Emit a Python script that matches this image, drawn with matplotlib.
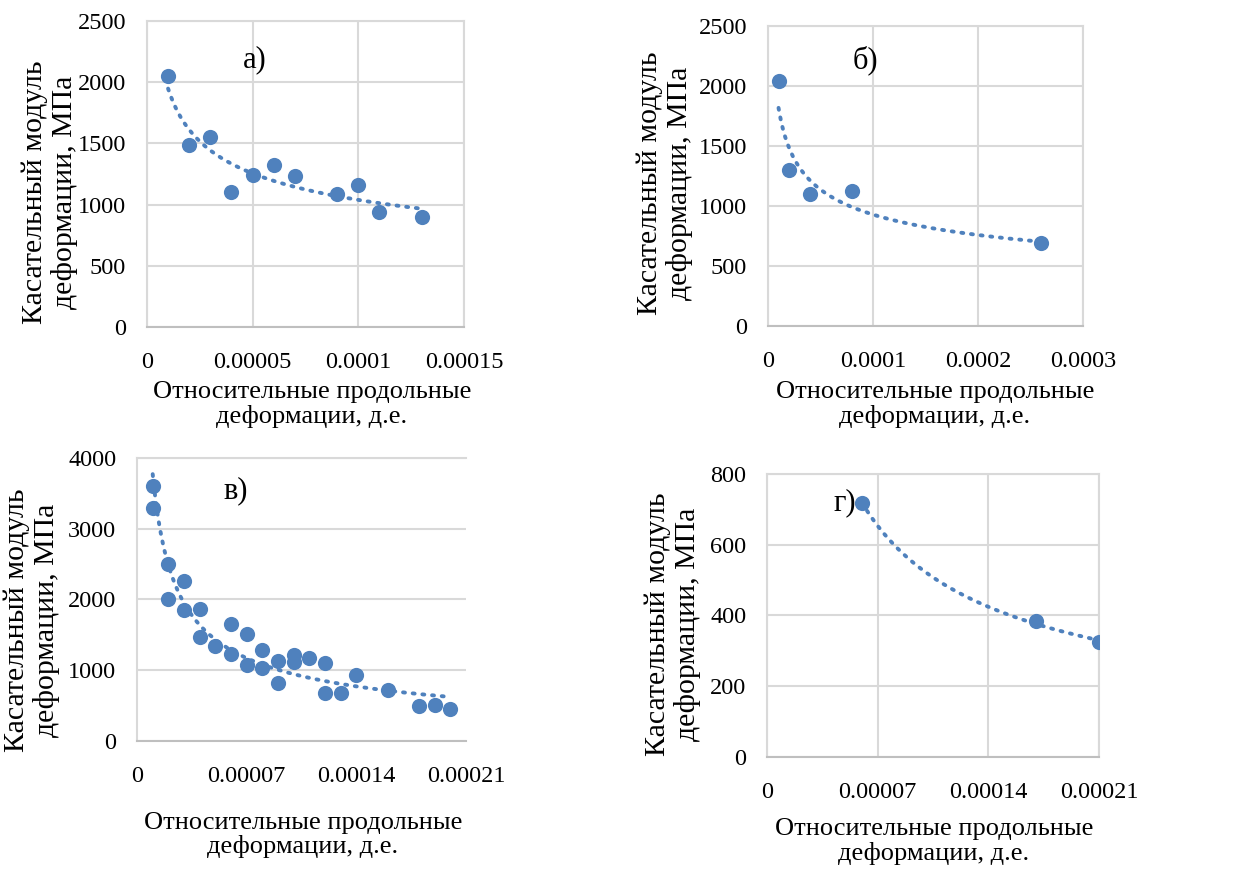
import numpy as np
import matplotlib
matplotlib.use("Agg")
import matplotlib.pyplot as plt

plt.rcParams['font.family'] = ['Liberation Serif', 'DejaVu Serif']

# panel a)
x_a = [1e-5, 2e-5, 3e-5, 4e-5, 5e-5, 6e-5, 7e-5, 9e-5, 1e-4, 1.1e-4, 1.3e-4]
y_a = [2050, 1490, 1550, 1100, 1240, 1320, 1230, 1085, 1160, 940, 900]
# panel б)
x_b = [1e-5, 2e-5, 4e-5, 8e-5, 2.6e-4]
y_b = [2040, 1300, 1100, 1125, 695]
# panel в)
x_v = [1e-5, 1e-5, 2e-5, 2e-5, 3e-5, 3e-5, 4e-5, 4e-5, 5e-5, 6e-5, 6e-5,
       7e-5, 7e-5, 8e-5, 8e-5, 9e-5, 9e-5, 1e-4, 1e-4, 1.1e-4, 1.2e-4, 1.2e-4,
       1.3e-4, 1.4e-4, 1.6e-4, 1.8e-4, 1.9e-4, 2e-4]
y_v = [3600, 3300, 2500, 2000, 2260, 1850, 1860, 1465, 1345, 1650, 1235,
       1505, 1070, 1285, 1025, 1135, 825, 1215, 1115, 1175, 1105, 685,
       685, 930, 715, 495, 505, 455]
# panel г)
x_g = [6e-5, 1.7e-4, 2.1e-4]
y_g = [717, 383, 325]

panel_names = ['а)', 'б)', 'в)', 'г)']
xticks_ab = [[0, 5e-5, 1e-4, 1.5e-4], [0, 1e-4, 2e-4, 3e-4]]
xticklabels_ab = [['0', '0.00005', '0.0001', '0.00015'], ['0', '0.0001', '0.0002', '0.0003']]
xticks_vg = [0, 7e-5, 1.4e-4, 2.1e-4]
xticklabels_vg = ['0', '0.00007', '0.00014', '0.00021']
yticks_ab = [0, 500, 1000, 1500, 2000, 2500]
yticks_v = [0, 1000, 2000, 3000, 4000]
yticks_g = [0, 200, 400, 600, 800]

ylabel = 'Касательный модуль\nдеформации, МПа'
xlabel = 'Относительные продольные\nдеформации, д.е.'

blue = '#4F81BD'
grid_c = '#D9D9D9'

fig = plt.figure(figsize=(12.56, 8.74), dpi=100)

panels = [
    # x, y, rect, xticks, xlabels, yticks, vgrid, ylabel pos, xlabel pos, letter pos
    (x_a, y_a, [0.117, 0.626, 0.2524, 0.350], xticks_ab[0], xticklabels_ab[0], yticks_ab, True,
     (-0.306, 0.44), (0.52, -0.255), (0.34, 0.873)),
    (x_b, y_b, [0.6115, 0.627, 0.2508, 0.3432], xticks_ab[1], xticklabels_ab[1], yticks_ab, True,
     (-0.327, 0.477), (0.53, -0.263), (0.31, 0.887)),
    (x_v, y_v, [0.1091, 0.1522, 0.262, 0.3238], xticks_vg, xticklabels_vg, yticks_v, False,
     (-0.319, 0.428), (0.504, -0.332), (0.30, 0.883)),
    (x_g, y_g, [0.6107, 0.1339, 0.2643, 0.3238], xticks_vg, xticklabels_vg, yticks_g, True,
     (-0.283, 0.47), (0.503, -0.30), (0.235, 0.897)),
]

for i, (xs, ys, rect, xt, xtl, yt, vgrid, ylp, xlp, lp) in enumerate(panels):
    ax = fig.add_axes(rect)
    xs = np.array(xs)
    ys = np.array(ys)

    # power trendline (like Excel)
    b, ln_a = np.polyfit(np.log(xs), np.log(ys), 1)
    xf = np.linspace(xs.min(), xs.max(), 200)
    ax.plot(xf, np.exp(ln_a) * xf ** b, color=blue, lw=2.8, ls=(0, (0.5, 2.0)),
            dash_capstyle='round', zorder=3)
    ax.scatter(xs, ys, s=120, color=blue, zorder=4, linewidths=0)

    ax.set_xlim(xt[0], xt[-1])
    ax.set_ylim(yt[0], yt[-1])
    ax.set_xticks(xt)
    ax.set_xticklabels(xtl)
    ax.set_yticks(yt)
    ax.tick_params(length=0, labelsize=17.5, pad=15)
    ax.tick_params(axis='x', pad=18)

    ax.yaxis.grid(True, color=grid_c, lw=1.5)
    if vgrid:
        ax.xaxis.grid(True, color=grid_c, lw=1.5)
    ax.set_axisbelow(True)
    for name, sp in ax.spines.items():
        sp.set_color(grid_c)
        sp.set_linewidth(1.5)
    ax.spines['bottom'].set_color('#BFBFBF')
    if not vgrid:
        ax.spines['right'].set_visible(False)

    ax.set_ylabel(ylabel, fontsize=21.5, linespacing=1.15)
    ax.yaxis.set_label_coords(*ylp)
    ax.set_xlabel(xlabel, fontsize=19, linespacing=1.1)
    ax.xaxis.set_label_coords(*xlp)
    ax.xaxis.label.set_va('center')
    ax.yaxis.label.set_va('center')

    ax.text(lp[0], lp[1], panel_names[i], transform=ax.transAxes, fontsize=22,
            ha='center', va='center')

fig.savefig('out.png', dpi=100)
